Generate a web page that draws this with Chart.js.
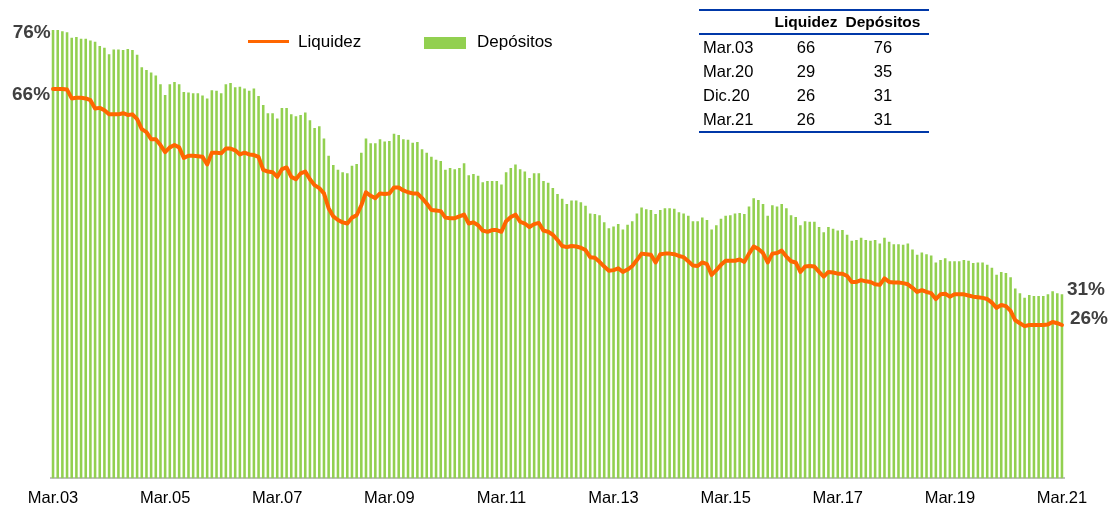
<!DOCTYPE html>
<html><head><meta charset="utf-8">
<script src="https://cdn.jsdelivr.net/npm/chart.js@4.4.0/dist/chart.umd.min.js"></script>
<style>
html,body{margin:0;padding:0;background:#fff;}
#wrap{position:relative;width:1111px;height:508px;font-family:"Liberation Sans",Arial,sans-serif;overflow:hidden;}
#c{position:absolute;left:0;top:0;}
.legline{position:absolute;left:248px;top:40px;width:41px;height:3px;background:#FF6600;}
.legbox{position:absolute;left:424px;top:37px;width:42px;height:12px;background:#92D050;}
.legtxt{position:absolute;font-size:17px;line-height:20px;color:#000;white-space:nowrap;}
#tbl{position:absolute;left:699px;top:9px;width:230px;border-top:2px solid #0038A8;border-bottom:2px solid #0038A8;font-size:16.5px;color:#000;}
#tbl .row{display:grid;grid-template-columns:70px 74px 80px 6px;height:24px;line-height:24px;}
#tbl .head{font-weight:bold;font-size:15.5px;height:22px;line-height:22px;border-bottom:2px solid #0038A8;}
#tbl .c0{padding-left:4px;text-align:left;white-space:nowrap;}
#tbl .c1,#tbl .c2{text-align:center;white-space:nowrap;}
</style></head><body>
<div id="wrap">
<canvas id="c" width="1111" height="508"></canvas>
<div class="legline"></div><div class="legtxt" style="left:298px;top:32px;">Liquidez</div>
<div class="legbox"></div><div class="legtxt" style="left:477px;top:32px;">Depósitos</div>
<div id="tbl"></div>
</div>
<script>
// ---- data ----
const monthNames = ['Ene','Feb','Mar','Abr','May','Jun','Jul','Ago','Sep','Oct','Nov','Dic'];
const startYear = 2003, startMonth = 2, nMonths = 217; // Mar.03 .. Mar.21
const tickLabels = ['Mar.03','Mar.05','Mar.07','Mar.09','Mar.11','Mar.13','Mar.15','Mar.17','Mar.19','Mar.21'];

const liquidez = [
66.0,66.0,66.0,65.9,64.4,64.5,64.5,64.4,64.1,62.7,62.8,62.4,61.7,61.7,61.7,61.9,61.6,61.7,60.9,59.2,
58.7,57.5,57.5,56.5,55.3,56.1,56.5,56.1,54.3,54.7,54.7,54.6,54.5,53.2,55.2,55.2,55.1,55.9,55.9,55.6,
54.9,55.2,54.9,54.8,
54.5,52.3,52.0,51.9,51.1,52.4,52.7,51.1,50.7,51.7,52.0,50.7,49.7,49.2,48.3,45.8,44.4,43.8,43.4,43.2,
44.2,44.6,46.3,48.5,47.9,47.5,48.3,48.2,48.3,49.3,49.3,48.8,48.5,48.3,48.3,47.5,46.6,45.5,45.4,45.3,
44.2,44.1,44.1,44.4,44.7,
43.2,43.4,42.9,42.0,41.8,42.1,42.1,41.8,43.6,44.3,44.7,43.5,43.2,42.6,43.1,43.3,42.0,41.8,41.3,40.4,
39.4,39.2,39.4,39.3,39.1,38.7,37.5,37.4,36.7,35.9,35.2,35.3,35.6,35.0,35.4,36.0,37.0,38.1,38.0,37.9,
36.6,38.0,38.1,38.1,
38.0,37.7,37.5,36.8,36.1,36.0,36.6,36.3,34.5,35.3,36.2,36.9,36.9,36.9,37.1,36.7,38.1,39.3,38.9,38.2,
36.6,38.1,38.2,38.6,37.6,36.8,36.6,35.0,35.9,36.0,35.9,35.0,34.2,35.0,34.9,34.7,34.7,34.3,33.3,33.3,
33.6,33.4,33.3,
32.9,32.8,33.9,33.3,33.2,33.2,33.1,32.9,32.3,31.6,31.9,31.6,31.4,30.4,31.2,31.3,30.8,31.2,31.2,31.2,
31.0,30.8,30.7,30.6,30.4,29.8,28.9,29.4,29.2,28.4,26.8,26.3,25.8,26.0,26.0,26.0,26.0,26.1,26.5,26.3,
26.0];

const depositos = [
76.0,76.0,75.8,75.6,74.7,74.8,74.5,74.5,74.2,74.0,73.3,73.0,71.9,72.7,72.7,72.6,72.8,72.6,71.8,69.7,
69.2,68.8,68.3,66.8,65.0,66.8,67.2,66.8,65.5,65.4,65.3,65.3,64.9,64.4,65.8,65.7,65.3,66.8,67.0,66.3,
66.4,66.1,65.7,66.1,
64.8,63.3,61.9,61.9,61.0,62.8,62.8,61.7,61.4,61.6,62.0,60.7,59.4,59.7,57.6,54.7,53.1,52.3,51.9,51.7,
53.0,53.3,55.2,57.6,56.8,56.8,57.5,57.1,57.2,58.4,58.2,57.5,57.4,56.9,57.0,55.8,55.2,54.5,54.0,53.8,
52.3,52.6,52.4,52.6,53.4,
51.4,51.6,51.3,50.2,50.4,50.4,50.4,49.8,51.9,52.6,53.2,52.4,52.0,50.9,51.7,51.7,50.4,50.1,49.2,48.2,
47.4,46.5,47.1,47.1,46.8,46.2,44.9,44.8,44.6,43.4,42.4,42.7,43.1,42.2,43.0,43.6,44.9,45.9,45.6,45.5,
44.8,45.5,45.8,45.8,
45.7,45.1,44.9,44.5,43.6,43.6,44.2,43.8,42.2,42.9,44.0,44.5,44.6,44.9,45.0,44.8,46.1,47.5,47.2,46.5,
44.5,46.3,46.1,46.5,45.8,44.6,44.3,42.9,43.6,43.5,43.5,42.6,41.7,42.6,42.3,42.0,42.1,41.3,40.3,40.4,
40.8,40.4,40.3,
40.4,39.8,40.8,40.1,39.7,39.7,39.6,39.8,38.8,37.9,38.3,38.0,37.8,36.6,37.0,37.3,36.8,36.8,36.8,37.0,
36.9,36.5,36.6,36.6,36.2,35.7,34.5,35.0,34.8,34.1,32.2,31.4,30.6,31.1,30.9,30.9,30.9,31.2,31.7,31.4,
31.2];

const tableRows = ['Mar.03','Mar.20','Dic.20','Mar.21'];
const tableLiquidez = [66, 29, 26, 26];
const tableDepositos = [76, 35, 31, 31];

// ---- build categories ----
const categories = [];
for (let i = 0; i < nMonths; i++) {
  const m = (startMonth + i) % 12;
  const yy = startYear + Math.floor((startMonth + i) / 12);
  categories.push(monthNames[m] + '.' + String(yy % 100).padStart(2, '0'));
}

// ---- table ----
(function(){
  const t = document.getElementById('tbl');
  let h = '<div class="row head"><div class="c0"></div><div class="c1">Liquidez</div><div class="c2">Depósitos</div><div></div></div>';
  for (let i = 0; i < tableRows.length; i++) {
    h += '<div class="row"><div class="c0">' + tableRows[i] + '</div><div class="c1">' + tableLiquidez[i] +
         '</div><div class="c2">' + tableDepositos[i] + '</div><div></div></div>';
  }
  t.innerHTML = h;
})();

const FONT = '"Liberation Sans", Arial, sans-serif';

const endLabels = {
  id: 'endLabels',
  afterDatasetsDraw(chart) {
    const ctx = chart.ctx, x = chart.scales.x, y = chart.scales.y;
    const last = categories.length - 1;
    ctx.save();
    ctx.font = 'bold 19px ' + FONT;
    ctx.fillStyle = '#404040';
    ctx.textBaseline = 'middle';
    ctx.textAlign = 'right';
    ctx.fillText(tableDepositos[0] + '%', x.getPixelForValue(0) - 2.3, y.getPixelForValue(depositos[0]) + 2.5);
    ctx.fillText(tableLiquidez[0] + '%', x.getPixelForValue(0) - 3, y.getPixelForValue(liquidez[0]) + 6);
    ctx.textAlign = 'left';
    const n = tableRows.length - 1;
    ctx.fillText(tableDepositos[n] + '%', x.getPixelForValue(last) + 5, y.getPixelForValue(depositos[last]) - 5);
    ctx.fillText(tableLiquidez[n] + '%', x.getPixelForValue(last) + 8, y.getPixelForValue(liquidez[last]) - 6);
    ctx.restore();
  }
};

new Chart(document.getElementById('c'), {
  data: {
    labels: categories,
    datasets: [
      { type: 'line', label: 'Liquidez', data: liquidez, borderColor: '#FF6600', borderWidth: 4,
        pointRadius: 0, tension: 0, fill: false, order: 1, borderJoinStyle: 'round', borderCapStyle: 'round' },
      { type: 'bar', label: 'Depósitos', data: depositos, backgroundColor: '#92D050',
        categoryPercentage: 1.0, barPercentage: 0.55, order: 2 }
    ]
  },
  options: {
    responsive: false,
    animation: false,
    devicePixelRatio: 1,
    layout: { padding: { left: 50.7, right: 46.7, top: 18.2, bottom: 0 } },
    plugins: { legend: { display: false }, tooltip: { enabled: false } },
    scales: {
      x: {
        offset: true,
        grid: { display: false, drawTicks: false },
        border: { display: true, color: '#C0C0C0', width: 2 },
        ticks: {
          autoSkip: false, maxRotation: 0, minRotation: 0, padding: 10,
          color: '#000', font: { family: FONT, size: 16.5 },
          callback: function(v, i) { const l = categories[i]; return tickLabels.includes(l) ? l : ''; }
        },
        afterFit: function(s) { s.height = 29.6; }
      },
      y: { display: false, min: 0, max: 78 }
    }
  },
  plugins: [endLabels]
});
</script>
</body></html>
